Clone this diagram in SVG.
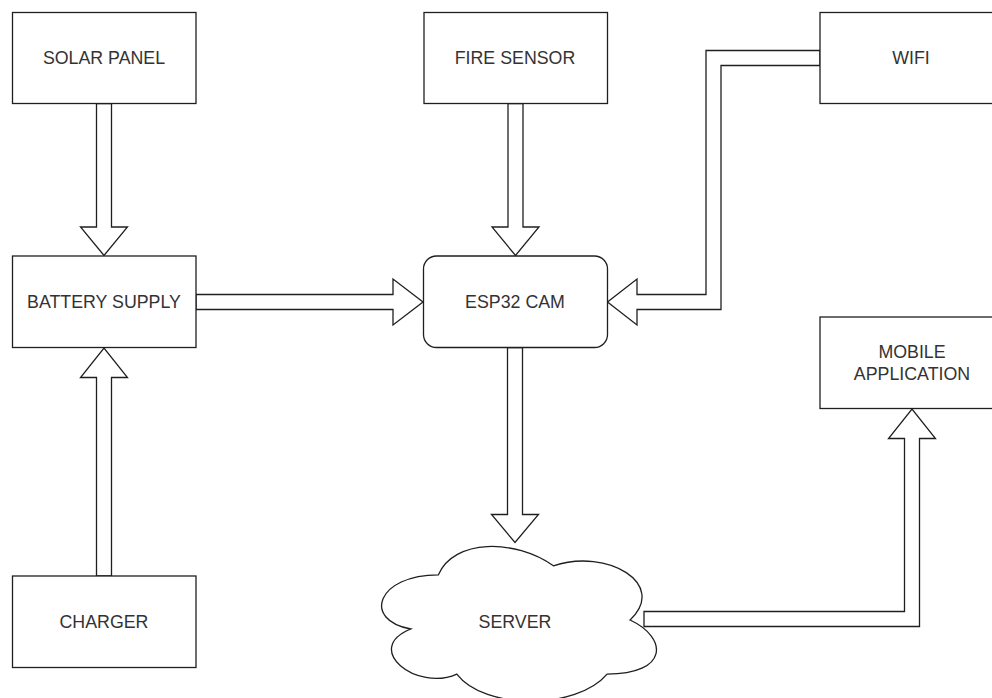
<svg xmlns="http://www.w3.org/2000/svg" width="992" height="698" viewBox="0 0 992 698">
<style>
.box{fill:#fff;stroke:#1f1f1f;stroke-width:1.3}
.arr{fill:#fff;stroke:#1f1f1f;stroke-width:1.3;stroke-linejoin:miter}
.lbl{font-family:"Liberation Sans",Arial,sans-serif;font-size:17.8px;fill:#333;text-anchor:middle}
</style>
<rect width="992" height="698" fill="#fff"/>
<g id="connectors">
<polygon class="arr" points="96.5,103.5 111.5,103.5 111.5,227 127.5,227 104,255.5 80.5,227 96.5,227"/>
<polygon class="arr" points="96.5,576 111.5,576 111.5,377.5 127.5,377.5 104,348 80.5,377.5 96.5,377.5"/>
<polygon class="arr" points="196,294.5 196,309.5 393,309.5 393,325 423,302 393,279 393,294.5"/>
<polygon class="arr" points="508,103.5 523,103.5 523,227 539,227 515.5,255.5 492,227 508,227"/>
<polygon class="arr" points="507.5,347.5 522.5,347.5 522.5,514.5 538.5,514.5 515,542.5 491.5,514.5 507.5,514.5"/>
<polygon class="arr" points="820,50.5 706,50.5 706,294.5 637,294.5 637,279 607.5,302 637,325 637,309.5 721,309.5 721,65.5 820,65.5"/>
<polygon class="arr" points="644,611.5 904.5,611.5 904.5,438.5 888.5,438.5 912,409 935.5,438.5 919.5,438.5 919.5,626.5 644,626.5"/>
</g>
<g id="solar-panel">
<rect class="box" x="12.5" y="12.5" width="183.5" height="91"/>
<text class="lbl" x="104" y="64">SOLAR PANEL</text>
</g>
<g id="fire-sensor">
<rect class="box" x="424" y="12.5" width="183.5" height="91"/>
<text class="lbl" x="515" y="64">FIRE SENSOR</text>
</g>
<g id="wifi">
<rect class="box" x="820" y="12.5" width="184" height="91"/>
<text class="lbl" x="911" y="64">WIFI</text>
</g>
<g id="battery-supply">
<rect class="box" x="12.5" y="256" width="183.5" height="91.5"/>
<text class="lbl" x="104" y="307.5">BATTERY SUPPLY</text>
</g>
<g id="esp32-cam">
<rect class="box" x="423.5" y="256" width="184" height="91.5" rx="13" ry="13"/>
<text class="lbl" x="515" y="307.5">ESP32 CAM</text>
</g>
<g id="mobile-application">
<rect class="box" x="820" y="317" width="184" height="91.5"/>
<text class="lbl" x="912" y="358">MOBILE</text>
<text class="lbl" x="912" y="380">APPLICATION</text>
</g>
<g id="charger">
<rect class="box" x="12.5" y="576" width="183.5" height="91.5"/>
<text class="lbl" x="104" y="627.5">CHARGER</text>
</g>
<g id="server">
<path class="box" d="M438.4,574.8 C377,574.8 361.7,620 410.8,629 C361.7,648.8 416.9,692.2 456.8,674.1 C484.4,710.2 576.4,710.2 607.1,674.1 C668.4,674.1 668.4,638 630.1,620 C668.4,583.9 607.1,547.8 553.4,565.8 C515.1,538.7 453.7,538.7 438.4,574.8 Z"/>
<text class="lbl" x="515" y="627.5">SERVER</text>
</g>
</svg>
